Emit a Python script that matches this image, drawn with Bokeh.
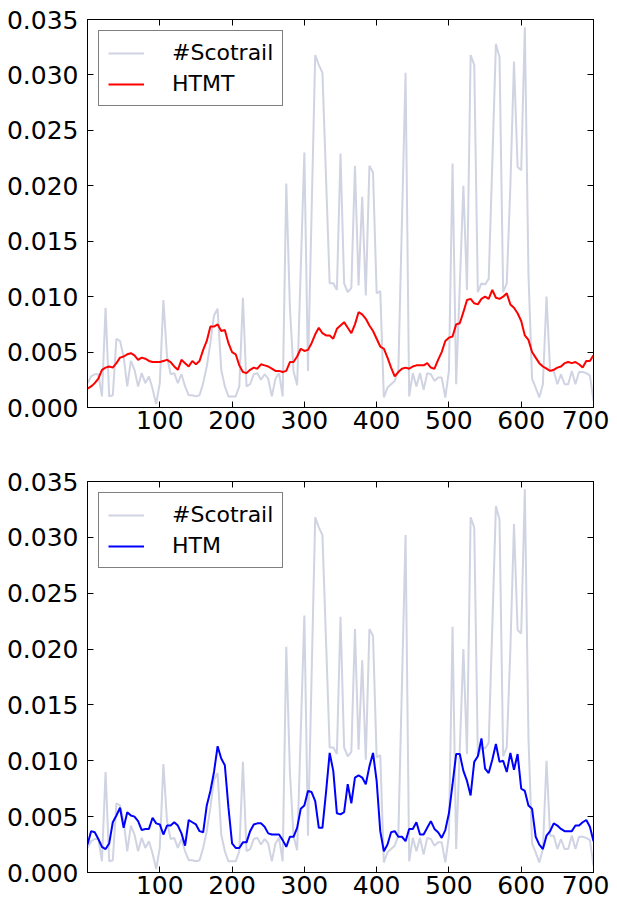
from bokeh.plotting import figure
from bokeh.layouts import column
from bokeh.models import (Range1d, FixedTicker, LinearAxis, NumeralTickFormatter,
                          Legend, LegendItem, CustomJSTickFormatter)
from bokeh.embed import file_html
from bokeh.resources import INLINE

# x positions (index of the series)
x = list(range(0, 705, 5))

scotrail = [
    0.0022, 0.0028, 0.0030, 0.0030, 0.0010, 0.0090, 0.0010, 0.0011, 0.0062, 0.0060,
    0.0046, 0.0019, 0.0042, 0.0034, 0.0019, 0.0031, 0.0022, 0.0028, 0.0017, 0.0003,
    0.0022, 0.0097, 0.0046, 0.0030, 0.0031, 0.0022, 0.0030, 0.0019, 0.0011, 0.0011,
    0.0010, 0.0011, 0.0022, 0.0037, 0.0058, 0.0083, 0.0089, 0.0034, 0.0019, 0.0010,
    0.0010, 0.0010, 0.0019, 0.0099, 0.0019, 0.0021, 0.0030, 0.0031, 0.0025, 0.0030,
    0.0026, 0.0010, 0.0026, 0.0031, 0.0010, 0.0202, 0.0090, 0.0033, 0.0020, 0.0125,
    0.0230, 0.0033, 0.0175, 0.0318, 0.0309, 0.0302, 0.0207, 0.0112, 0.0112, 0.0106,
    0.0229, 0.0112, 0.0104, 0.0108, 0.0218, 0.0110, 0.0190, 0.0101, 0.0218, 0.0212,
    0.0103, 0.0105, 0.0009, 0.0018, 0.0021, 0.0024, 0.0033, 0.0168, 0.0302, 0.0010,
    0.0031, 0.0019, 0.0031, 0.0016, 0.0031, 0.0030, 0.0024, 0.0027, 0.0027, 0.0009,
    0.0033, 0.0220, 0.0021, 0.0110, 0.0200, 0.0106, 0.0318, 0.0309, 0.0104, 0.0112,
    0.0111, 0.0116, 0.0220, 0.0328, 0.0316, 0.0104, 0.0112, 0.0200, 0.0312, 0.0217,
    0.0214, 0.0343, 0.0121, 0.0026, 0.0018, 0.0009, 0.0021, 0.0100, 0.0033, 0.0033,
    0.0021, 0.0030, 0.0021, 0.0021, 0.0033, 0.0021, 0.0032, 0.0032, 0.0031, 0.0029,
    0.0006,
]

htmt = [
    0.0017, 0.0019, 0.0022, 0.0026, 0.0034, 0.0036, 0.0037, 0.0036, 0.0040, 0.0045,
    0.0046, 0.0048, 0.0049, 0.0047, 0.0043, 0.0045, 0.0044, 0.0042, 0.0041, 0.0041,
    0.0041, 0.0042, 0.0043, 0.0041, 0.0037, 0.0034, 0.0043, 0.0040, 0.0037, 0.0042,
    0.0039, 0.0042, 0.0052, 0.0060, 0.0073, 0.0073, 0.0075, 0.0069, 0.0070, 0.0058,
    0.0050, 0.0048, 0.0038, 0.0032, 0.0031, 0.0034, 0.0036, 0.0035, 0.0039, 0.0038,
    0.0037, 0.0035, 0.0033, 0.0033, 0.0032, 0.0033, 0.0041, 0.0041, 0.0046, 0.0053,
    0.0051, 0.0052, 0.0058, 0.0066, 0.0072, 0.0067, 0.0065, 0.0065, 0.0062, 0.0071,
    0.0074, 0.0077, 0.0072, 0.0067, 0.0075, 0.0086, 0.0084, 0.0080, 0.0074, 0.0069,
    0.0062, 0.0055, 0.0053, 0.0045, 0.0036, 0.0028, 0.0032, 0.0035, 0.0036, 0.0035,
    0.0037, 0.0038, 0.0038, 0.0038, 0.0040, 0.0036, 0.0035, 0.0043, 0.0050, 0.0060,
    0.0063, 0.0064, 0.0075, 0.0076, 0.0086, 0.0097, 0.0098, 0.0094, 0.0093, 0.0098,
    0.0100, 0.0098, 0.0106, 0.0099, 0.0098, 0.0100, 0.0103, 0.0093, 0.0090, 0.0085,
    0.0078, 0.0065, 0.0061, 0.0050, 0.0045, 0.0040, 0.0037, 0.0035, 0.0033, 0.0034,
    0.0036, 0.0037, 0.0040, 0.0041, 0.0040, 0.0041, 0.0039, 0.0036, 0.0042, 0.0042,
    0.0047,
]

htm = [
    0.0025, 0.0037, 0.0036, 0.0030, 0.0023, 0.0021, 0.0026, 0.0045, 0.0051, 0.0058,
    0.0040, 0.0054, 0.0051, 0.0050, 0.0046, 0.0038, 0.0039, 0.0039, 0.0049, 0.0044,
    0.0043, 0.0034, 0.0042, 0.0042, 0.0045, 0.0042, 0.0035, 0.0024, 0.0047, 0.0045,
    0.0043, 0.0037, 0.0036, 0.0060, 0.0073, 0.0090, 0.0113, 0.0102, 0.0096, 0.0058,
    0.0026, 0.0022, 0.0022, 0.0027, 0.0027, 0.0037, 0.0043, 0.0044, 0.0044, 0.0041,
    0.0035, 0.0034, 0.0034, 0.0034, 0.0029, 0.0023, 0.0032, 0.0032, 0.0040, 0.0057,
    0.0060, 0.0073, 0.0072, 0.0064, 0.0040, 0.0040, 0.0072, 0.0107, 0.0091, 0.0053,
    0.0052, 0.0054, 0.0079, 0.0062, 0.0085, 0.0087, 0.0085, 0.0079, 0.0095, 0.0107,
    0.0082, 0.0037, 0.0019, 0.0025, 0.0036, 0.0037, 0.0032, 0.0032, 0.0028, 0.0039,
    0.0039, 0.0045, 0.0034, 0.0034, 0.0040, 0.0046, 0.0039, 0.0036, 0.0031, 0.0038,
    0.0053, 0.0079, 0.0106, 0.0106, 0.0091, 0.0082, 0.0069, 0.0099, 0.0104, 0.0120,
    0.0093, 0.0089, 0.0101, 0.0115, 0.0099, 0.0100, 0.0090, 0.0107, 0.0092, 0.0106,
    0.0075, 0.0073, 0.0060, 0.0057, 0.0032, 0.0025, 0.0021, 0.0033, 0.0037, 0.0044,
    0.0042, 0.0039, 0.0037, 0.0037, 0.0037, 0.0042, 0.0042, 0.0045, 0.0047, 0.0041,
    0.0028,
]

x_ticks = [100, 200, 300, 400, 500, 600, 700]
y_ticks = [0.0, 0.005, 0.010, 0.015, 0.020, 0.025, 0.030, 0.035]

FONT = "DejaVu Sans"
GRAY = "#d0d3e2"


def style_axis(ax, labels=True, standoff=5):
    ax.major_tick_in = 6
    ax.major_tick_out = 0
    ax.minor_tick_line_color = None
    ax.axis_line_color = "black"
    ax.major_tick_line_color = "black"
    ax.major_label_text_font = FONT
    ax.major_label_text_font_size = "25px"
    ax.major_label_text_color = "black"
    ax.major_label_standoff = standoff
    if not labels:
        ax.formatter = CustomJSTickFormatter(code="return ''")
        ax.major_label_standoff = 0


def make_fig(label, values, color, height, top, bottom):
    p = figure(width=609, height=height, x_range=Range1d(0, 700),
               y_range=Range1d(0, 0.035), output_backend="svg",
               toolbar_location=None, min_border_left=87, min_border_right=16,
               min_border_top=top, min_border_bottom=bottom)
    p.xgrid.visible = False
    p.ygrid.visible = False
    p.outline_line_color = "black"
    p.outline_line_width = 1
    p.background_fill_color = "white"
    p.border_fill_color = "white"

    p.xaxis.ticker = FixedTicker(ticks=x_ticks)
    p.yaxis.ticker = FixedTicker(ticks=y_ticks)
    p.yaxis.formatter = NumeralTickFormatter(format="0.000")
    style_axis(p.xaxis[0], standoff=3)
    style_axis(p.yaxis[0], standoff=9)

    top_ax = LinearAxis(ticker=FixedTicker(ticks=x_ticks))
    style_axis(top_ax, labels=False)
    p.add_layout(top_ax, "above")
    right_ax = LinearAxis(ticker=FixedTicker(ticks=y_ticks))
    style_axis(right_ax, labels=False)
    p.add_layout(right_ax, "right")

    r_gray = p.line(x, scotrail, line_color=GRAY, line_width=2)
    r_main = p.line(x, values, line_color=color, line_width=2)

    legend = Legend(items=[LegendItem(label="#Scotrail", renderers=[r_gray]),
                           LegendItem(label=label, renderers=[r_main])],
                    location="top_left")
    legend.margin = 11
    legend.padding = 9
    legend.spacing = 6
    legend.label_text_font = FONT
    legend.label_text_font_size = "22px"
    legend.label_text_color = "black"
    legend.label_standoff = 28
    legend.label_height = 24
    legend.glyph_height = 24
    legend.glyph_width = 36
    legend.border_line_color = "black"
    legend.border_line_width = 1
    legend.background_fill_color = "white"
    legend.background_fill_alpha = 1.0
    p.add_layout(legend)
    return p


p1 = make_fig("HTMT", htmt, "red", 454, 19, 47)
p2 = make_fig("HTM", htm, "blue", 446, 27, 28)

layout = column(p1, p2, spacing=0)
open("out.html", "w").write(file_html(layout, INLINE))
